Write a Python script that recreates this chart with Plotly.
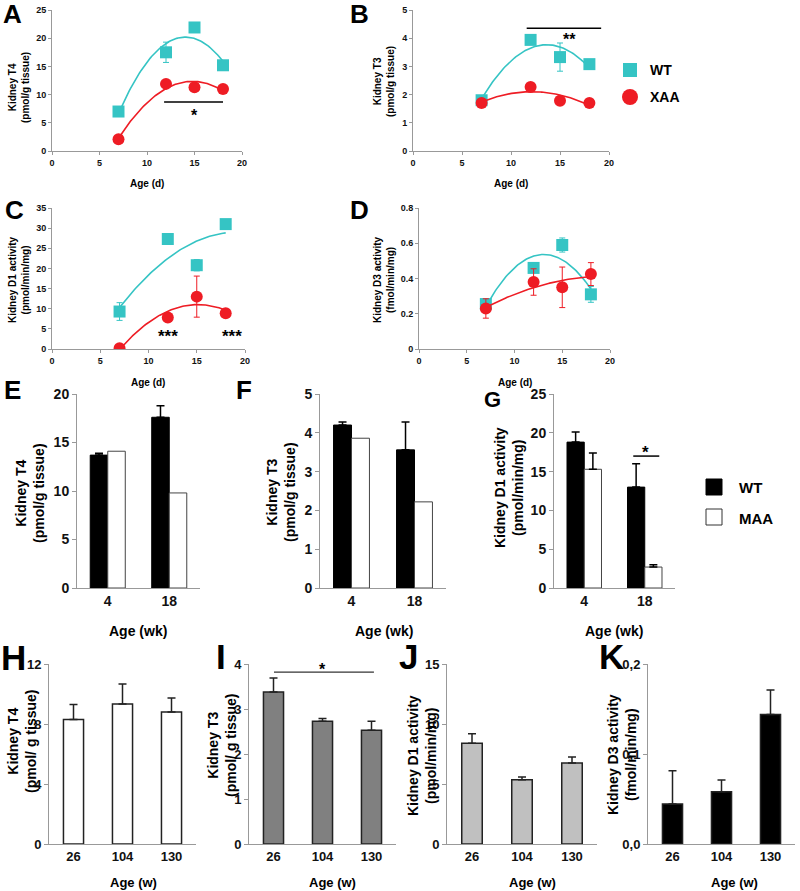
import numpy as np
import plotly.graph_objects as go

W, H = 800, 891
FONT = "Liberation Sans, Arial, sans-serif"
CYAN = "#35C4C4"
RED = "#EE1C24"

# ---------------- data ----------------
age_d = [7, 12, 15, 18]
a_wt = [7.0, 17.5, 21.9, 15.2]
a_wt_err = [0.0, 1.8, 0.4, 0.0]
a_xaa = [2.1, 11.9, 11.3, 11.0]
a_xaa_err = [0.0, 0.0, 0.0, 0.0]
b_wt = [1.8, 3.94, 3.33, 3.08]
b_wt_err = [0.05, 0.0, 0.5, 0.0]
b_xaa = [1.7, 2.27, 1.78, 1.7]
b_xaa_err = [0.0, 0.0, 0.0, 0.0]
c_wt = [9.3, 27.3, 20.8, 31.0]
c_wt_err = [2.2, 0.0, 1.4, 0.0]
c_xaa = [0.2, 7.8, 13.0, 8.9]
c_xaa_err = [0.0, 0.0, 5.1, 0.0]
d_wt = [0.255, 0.46, 0.59, 0.31]
d_wt_err = [0.03, 0.02, 0.04, 0.045]
d_xaa = [0.23, 0.38, 0.35, 0.425]
d_xaa_err = [0.055, 0.075, 0.115, 0.065]

age_wk = ["4", "18"]
e_wt = [13.7, 17.6]
e_wt_err = [0.2, 1.2]
e_maa = [14.1, 9.8]
f_wt = [4.2, 3.56]
f_wt_err = [0.08, 0.72]
f_maa = [3.86, 2.22]
g_wt = [18.8, 13.0]
g_wt_err = [1.3, 3.0]
g_maa = [15.3, 2.7]
g_maa_err = [2.1, 0.3]

age_w = ["26", "104", "130"]
h_t4 = [8.3, 9.33, 8.8]
h_err = [1.0, 1.33, 0.93]
i_t3 = [3.38, 2.73, 2.53]
i_err = [0.31, 0.06, 0.2]
j_d1 = [8.4, 5.35, 6.75]
j_err = [0.78, 0.23, 0.5]
k_d3 = [0.0445, 0.058, 0.144]
k_err = [0.037, 0.013, 0.027]
k_tickvals = [0.0, 0.1, 0.2]
k_ticktext = ["0,0", "0,1", "0,2"]

# ---------------- helpers ----------------
def px(x):
    return x / W

def py(y):
    return 1 - y / H

def dom_x(x0, x1):
    return [x0 / W, x1 / W]

def dom_y(y0, y1):
    return [1 - y1 / H, 1 - y0 / H]

def trend(x, y):
    c = np.polyfit(x, y, 2)
    xs = np.linspace(min(x), max(x), 80)
    return xs, np.polyval(c, xs)

fig = go.Figure()
annotations = []
shapes = []

def ann(text, x, y, size, angle=0, color="black", xanchor="center"):
    annotations.append(dict(
        text=text, x=px(x), y=py(y), xref="paper", yref="paper",
        showarrow=False, textangle=angle, xanchor=xanchor, yanchor="middle",
        font=dict(size=size, family=FONT, color=color, weight="bold")))

# panel geometry (pixel boxes)
panels = {
    1: dict(x=(52, 242), y=(10, 151), yr=[0, 25], dt=5),
    2: dict(x=(413, 609), y=(10, 151), yr=[0, 5], dt=1),
    3: dict(x=(52, 245), y=(208, 349), yr=[0, 35], dt=5),
    4: dict(x=(419, 610), y=(208, 349), yr=[0, 0.8], dt=0.2),
    5: dict(x=(77, 200), y=(394, 588), yr=[0, 20], dt=5),
    6: dict(x=(320, 446), y=(394, 588), yr=[0, 5], dt=1),
    7: dict(x=(554, 675), y=(394, 588), yr=[0, 25], dt=5),
    8: dict(x=(49, 196), y=(664, 844), yr=[0, 12], dt=4),
    9: dict(x=(249, 396), y=(664, 844), yr=[0, 4], dt=1),
    10: dict(x=(447, 597), y=(664, 844), yr=[0, 15], dt=5),
    11: dict(x=(648, 795), y=(664, 844), yr=[0, 0.2], dt=0.1),
}

layout_axes = {}
for n, p in panels.items():
    xs = "xaxis" if n == 1 else f"xaxis{n}"
    ys = "yaxis" if n == 1 else f"yaxis{n}"
    small = n <= 4
    tsize = 9 if small else (14 if n <= 7 else 13)
    ax_common = dict(showgrid=False, zeroline=False, showline=True, automargin=False,
                     linecolor="#999999", linewidth=1,
                     tickfont=dict(size=tsize, family=FONT, color="#111", weight="bold"))
    xa = dict(domain=dom_x(*p["x"]), anchor=f"y{'' if n == 1 else n}", **ax_common)
    ya = dict(domain=dom_y(*p["y"]), anchor=f"x{'' if n == 1 else n}", range=p["yr"],
              ticks="outside", ticklen=3 if small else 4, tickcolor="#999999",
              dtick=p["dt"], **ax_common)
    if small:
        xa.update(range=[0, 20], dtick=5, ticks="outside", ticklen=3, tickcolor="#999999")
    else:
        xa.update(type="category", ticks="")
        if n <= 7:
            xa.update(range=[-0.5, 1.5])
        else:
            xa.update(range=[-0.5, 2.5])
    if n == 11:
        ya.update(tickmode="array", tickvals=k_tickvals, ticktext=k_ticktext)
    layout_axes[xs] = xa
    layout_axes[ys] = ya

def axref(n):
    return ("x" if n == 1 else f"x{n}", "y" if n == 1 else f"y{n}")

# ---------------- scatter panels A-D ----------------
scatter_sets = [
    (1, a_wt, a_wt_err, a_xaa, a_xaa_err),
    (2, b_wt, b_wt_err, b_xaa, b_xaa_err),
    (3, c_wt, c_wt_err, c_xaa, c_xaa_err),
    (4, d_wt, d_wt_err, d_xaa, d_xaa_err),
]
for n, wt, wte, xa_, xae in scatter_sets:
    xr, yr = axref(n)
    for vals, errs, col, sym in [(wt, wte, CYAN, "square"), (xa_, xae, RED, "circle")]:
        tx, ty = trend(age_d, vals)
        fig.add_trace(go.Scatter(x=tx, y=ty, mode="lines", xaxis=xr, yaxis=yr,
                                 line=dict(color=col, width=1.6), showlegend=False,
                                 hoverinfo="skip"))
        fig.add_trace(go.Scatter(x=age_d, y=vals, mode="markers", xaxis=xr, yaxis=yr,
                                 marker=dict(symbol=sym, size=12, color=col),
                                 error_y=dict(type="data", array=errs, color=col,
                                              thickness=1, width=3),
                                 showlegend=False))

# ---------------- bar panels E-G ----------------
BW = 0.285
for n, wt, wte, maa, maae in [(5, e_wt, e_wt_err, e_maa, None),
                              (6, f_wt, f_wt_err, f_maa, None),
                              (7, g_wt, g_wt_err, g_maa, g_maa_err)]:
    xr, yr = axref(n)
    fig.add_trace(go.Bar(x=age_wk, y=wt, xaxis=xr, yaxis=yr, offset=-BW, width=BW,
                         marker=dict(color="black", line=dict(color="black", width=1)),
                         error_y=dict(type="data", symmetric=False, array=wte,
                                      arrayminus=[0] * len(wte), color="black",
                                      thickness=1.5, width=4),
                         showlegend=False))
    kw = {}
    if maae is not None:
        kw["error_y"] = dict(type="data", symmetric=False, array=maae,
                             arrayminus=[0] * len(maae), color="black",
                             thickness=1.5, width=4)
    fig.add_trace(go.Bar(x=age_wk, y=maa, xaxis=xr, yaxis=yr, offset=0, width=BW,
                         marker=dict(color="white", line=dict(color="#444", width=1)),
                         showlegend=False, **kw))

# ---------------- bar panels H-K ----------------
for n, vals, errs, fill in [(8, h_t4, h_err, "white"), (9, i_t3, i_err, "#808080"),
                            (10, j_d1, j_err, "#C0C0C0"), (11, k_d3, k_err, "black")]:
    xr, yr = axref(n)
    fig.add_trace(go.Bar(x=age_w, y=vals, xaxis=xr, yaxis=yr, width=0.41,
                         marker=dict(color=fill, line=dict(color="#222", width=1.5)),
                         error_y=dict(type="data", symmetric=False, array=errs,
                                      arrayminus=[0] * len(errs), color="#222",
                                      thickness=1.5, width=4),
                         showlegend=False))

# ---------------- significance marks ----------------
def sig_line(n, x0, x1, y, width=1.5):
    xr, yr = axref(n)
    shapes.append(dict(type="line", xref=xr, yref=yr, x0=x0, x1=x1, y0=y, y1=y,
                       line=dict(color="black", width=width)))

def sig_text(n, text, x, y, size):
    xr, yr = axref(n)
    annotations.append(dict(text=text, x=x, y=y, xref=xr, yref=yr, showarrow=False,
                            font=dict(size=size, family=FONT, color="black", weight="bold")))

sig_line(1, 11.8, 18, 8.7)
sig_text(1, "*", 15, 6.3, 16)
sig_line(2, 11.6, 19.2, 4.35)
sig_text(2, "**", 16, 3.95, 16)
sig_text(3, "***", 12, 3.0, 17)
sig_text(3, "***", 18.7, 3.0, 17)
sig_line(7, 0.81, 1.24, 17.0)
sig_text(7, "*", 1.02, 17.5, 17)
sig_line(9, 0.01, 2.05, 3.82, 1)
sig_text(9, "*", 1.0, 3.88, 16)

# ---------------- axis titles ----------------
ann("Kidney T4<br>(pmol/g tissue)", 19, 88, 10, -90)
ann("Kidney T3<br>(pmol/g tissue)", 384, 82, 10, -90)
ann("Kidney D1 activity<br>(pmol/min/mg)", 19, 280, 10, -90)
ann("Kidney D3 activity<br>(fmol/min/mg)", 384, 280, 10, -90)
ann("Age (d)", 147, 183, 10)
ann("Age (d)", 511, 183, 10)
ann("Age (d)", 148, 382, 10)
ann("Age (d)", 515, 382, 10)

ann("Kidney T4<br>(pmol/g tissue)", 30, 493, 14, -90)
ann("Kidney T3<br>(pmol/g tissue)", 281, 492, 14, -90)
ann("Kidney D1 activity<br>(pmol/min/mg)", 509, 488, 14, -90)
ann("Age (wk)", 138, 631, 14)
ann("Age (wk)", 384, 631, 14)
ann("Age (wk)", 614, 631, 14)

ann("Kidney T4<br>(pmol/ g tissue)", 22, 742, 14, -90)
ann("Kidney T3<br>(pmol/ g tissue)", 222, 746, 14, -90)
ann("Kidney D1 activity<br>(pmol/min/mg)", 422, 756, 14, -90)
ann("Kidney D3 activity<br>(fmol/min/mg)", 622, 755, 14, -90)
ann("Age (w)", 133, 882, 13)
ann("Age (w)", 332, 882, 13)
ann("Age (w)", 532, 882, 13)
ann("Age (w)", 734, 882, 13)

# ---------------- panel letters ----------------
for letter, x, y, s in [("A", 12, 14, 26), ("B", 359, 14, 26), ("C", 14, 210, 26),
                        ("D", 359, 210, 26), ("E", 12, 390, 26), ("F", 244, 390, 26),
                        ("G", 492, 400, 22), ("H", 13, 657, 35), ("I", 221, 656, 35),
                        ("J", 408, 656, 35), ("K", 611, 656, 35)]:
    ann(letter, x, y, s)

# ---------------- legends ----------------
shapes.append(dict(type="rect", xref="paper", yref="paper", x0=px(623), x1=px(637),
                   y0=py(77), y1=py(63), fillcolor=CYAN, line=dict(width=0)))
shapes.append(dict(type="circle", xref="paper", yref="paper", x0=px(622), x1=px(638),
                   y0=py(105), y1=py(89), fillcolor=RED, line=dict(width=0)))
ann("WT", 648, 70, 14, xanchor="left")
ann("XAA", 648, 97, 14, xanchor="left")

shapes.append(dict(type="rect", xref="paper", yref="paper", x0=px(706), x1=px(722),
                   y0=py(495), y1=py(479), fillcolor="black", line=dict(color="black", width=1)))
shapes.append(dict(type="rect", xref="paper", yref="paper", x0=px(706), x1=px(722),
                   y0=py(525), y1=py(509), fillcolor="white", line=dict(color="#333", width=1)))
ann("WT", 737, 488, 15, xanchor="left")
ann("MAA", 737, 518, 15, xanchor="left")

fig.update_layout(
    template="none",
    width=W, height=H, margin=dict(l=0, r=0, t=0, b=0, autoexpand=False),
    paper_bgcolor="white", plot_bgcolor="white",
    barmode="overlay", showlegend=False, hovermode=False,
    font=dict(family=FONT, color="black"),
    annotations=annotations, shapes=shapes,
    **layout_axes,
)

fig.write_html("out.html", config={"displayModeBar": False},
               post_script="document.body.style.margin='0px';document.body.style.overflow='hidden';")
